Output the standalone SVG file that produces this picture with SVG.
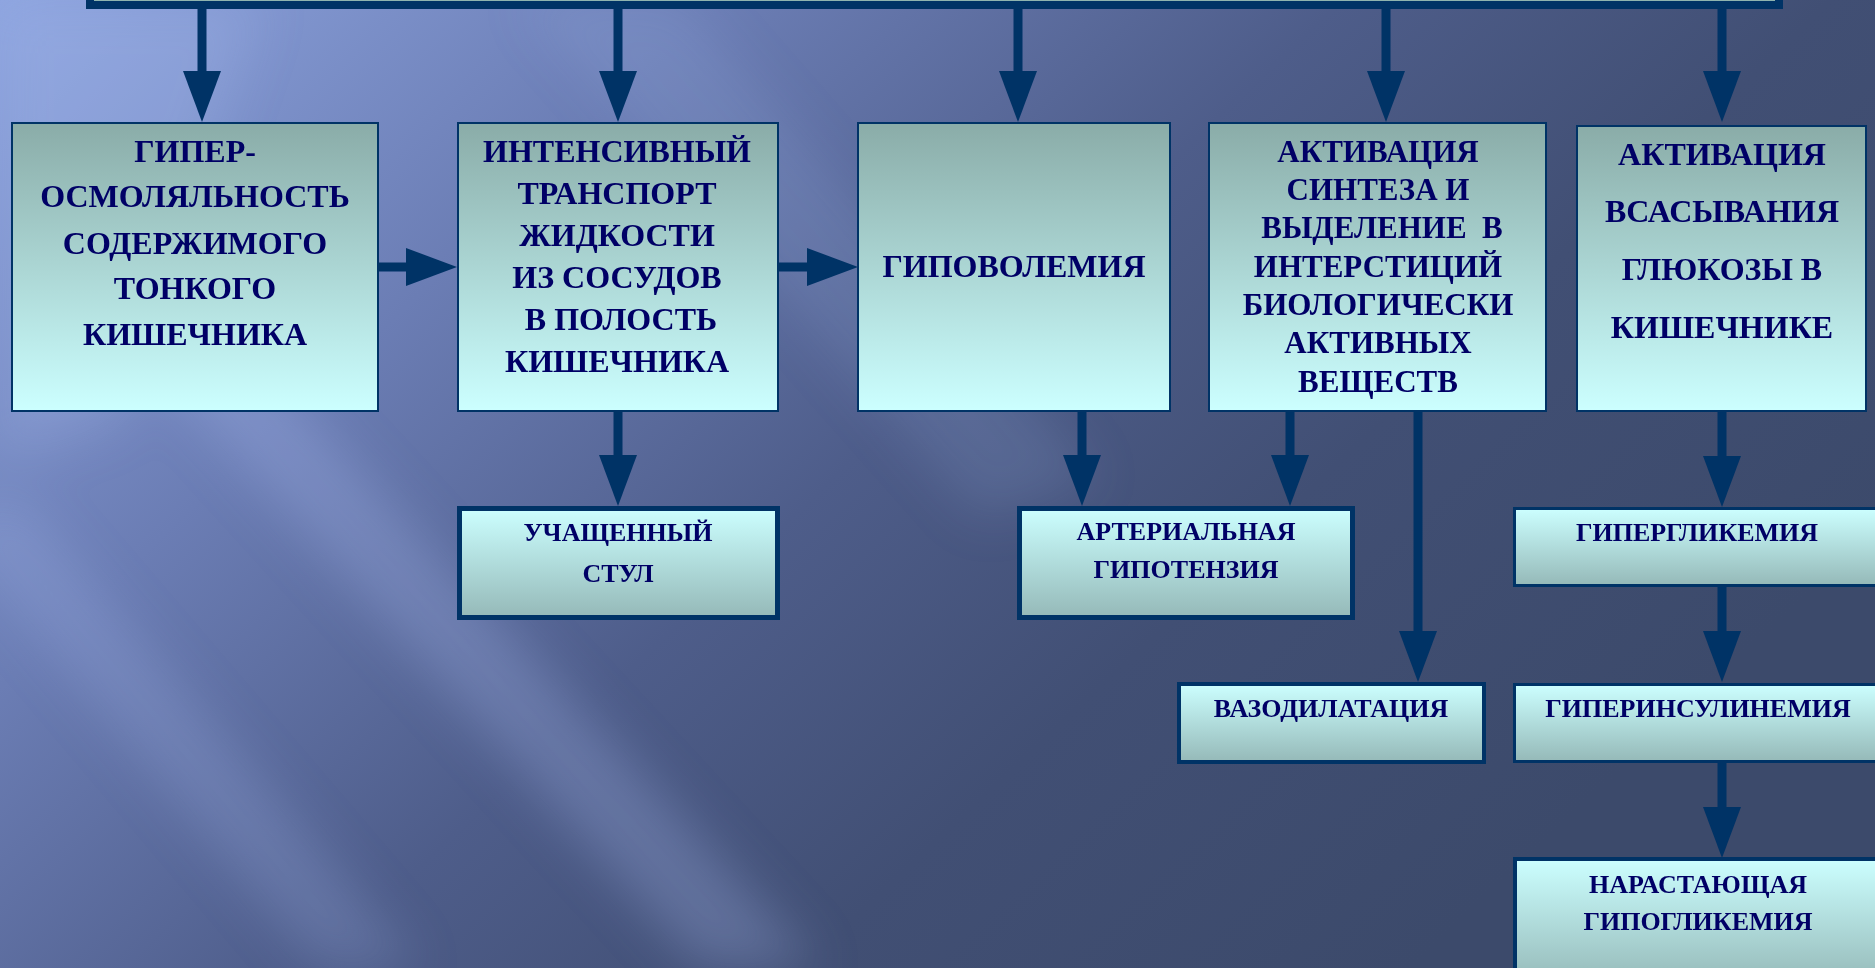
<svg xmlns="http://www.w3.org/2000/svg" width="1875" height="968" viewBox="0 0 1875 968">
  <defs>
    <linearGradient id="bg" x1="0" y1="0" x2="1" y2="0.55">
      <stop offset="0" stop-color="#8DA4DF"/>
      <stop offset="0.3" stop-color="#6B7DB4"/>
      <stop offset="0.55" stop-color="#4E5D8A"/>
      <stop offset="0.75" stop-color="#414F74"/>
      <stop offset="1" stop-color="#3C4A6B"/>
    </linearGradient>
    <linearGradient id="gUp" x1="0" y1="0" x2="0" y2="1">
      <stop offset="0" stop-color="#8AACA8"/>
      <stop offset="1" stop-color="#CCFFFF"/>
    </linearGradient>
    <linearGradient id="gDown" x1="0" y1="0" x2="0" y2="1">
      <stop offset="0" stop-color="#CCFFFF"/>
      <stop offset="1" stop-color="#95B9B8"/>
    </linearGradient>
    <filter id="blur" x="-20%" y="-20%" width="140%" height="140%">
      <feGaussianBlur stdDeviation="25"/>
    </filter>
    <marker id="ah" markerUnits="userSpaceOnUse" markerWidth="51" markerHeight="38" refX="0" refY="19" orient="auto" overflow="visible">
      <path d="M0,0 L51,19 L0,38 Z" fill="#003366"/>
    </marker>
    <style>
      .top { fill: url(#gUp); stroke: #003366; stroke-width: 2; }
      .low { fill: url(#gDown); stroke: #003366; }
      .t { font-family: "Liberation Serif", "Times New Roman", serif; font-weight: bold; fill: #000066; text-anchor: middle; }
      .t32 { font-size: 32px; }
      .t31 { font-size: 31px; }
      .t26 { font-size: 26px; }
      .c { fill: none; stroke: #003366; stroke-width: 9; marker-end: url(#ah); }
    </style>
  </defs>

  <!-- background -->
  <rect x="0" y="0" width="1875" height="968" fill="url(#bg)"/>
  <g filter="url(#blur)" fill="#A8BCF0">
    <polygon points="120,330 230,330 820,968 700,968" opacity="0.28"/>
    <polygon points="-60,520 20,500 420,968 320,968" opacity="0.22"/>
    <polygon points="520,0 680,0 1100,480 980,520" opacity="0.14"/>
    <polygon points="0,0 260,0 120,420 0,460" opacity="0.25"/>
  </g>

  <!-- connectors -->
  <g id="connectors">
    <line class="c" x1="202" y1="9" x2="202" y2="71"/>
    <line class="c" x1="618" y1="9" x2="618" y2="71"/>
    <line class="c" x1="1018" y1="9" x2="1018" y2="71"/>
    <line class="c" x1="1386" y1="9" x2="1386" y2="71"/>
    <line class="c" x1="1722" y1="9" x2="1722" y2="71"/>
    <line class="c" x1="378" y1="267" x2="406" y2="267"/>
    <line class="c" x1="778" y1="267" x2="807" y2="267"/>
    <line class="c" x1="618" y1="411" x2="618" y2="455"/>
    <line class="c" x1="1082" y1="411" x2="1082" y2="455"/>
    <line class="c" x1="1290" y1="411" x2="1290" y2="455"/>
    <line class="c" x1="1418" y1="411" x2="1418" y2="631"/>
    <line class="c" x1="1722" y1="411" x2="1722" y2="456"/>
    <line class="c" x1="1722" y1="587" x2="1722" y2="631"/>
    <line class="c" x1="1722" y1="763" x2="1722" y2="807"/>
  </g>

  <!-- top bar (parent node, mostly off-screen) -->
  <g id="node-top">
    <rect x="90" y="-100" width="1689" height="105" fill="#8FB4AF" stroke="#003366" stroke-width="8"/>
  </g>

  <g id="node-hyperosmolarity">
    <rect class="top" x="12" y="123" width="366" height="288"/>
    <text class="t t32"><tspan x="195" y="162">ГИПЕР-</tspan><tspan x="195" y="207">ОСМОЛЯЛЬНОСТЬ</tspan><tspan x="195" y="254">СОДЕРЖИМОГО</tspan><tspan x="195" y="299">ТОНКОГО</tspan><tspan x="195" y="345">КИШЕЧНИКА</tspan></text>
  </g>

  <g id="node-transport">
    <rect class="top" x="458" y="123" width="320" height="288"/>
    <text class="t t32"><tspan x="617" y="162">ИНТЕНСИВНЫЙ</tspan><tspan x="617" y="204">ТРАНСПОРТ</tspan><tspan x="617" y="246">ЖИДКОСТИ</tspan><tspan x="617" y="288">ИЗ СОСУДОВ</tspan><tspan x="621" y="330">В ПОЛОСТЬ</tspan><tspan x="617" y="372">КИШЕЧНИКА</tspan></text>
  </g>

  <g id="node-hypovolemia">
    <rect class="top" x="858" y="123" width="312" height="288"/>
    <text class="t t32" x="1014" y="277">ГИПОВОЛЕМИЯ</text>
  </g>

  <g id="node-activation-synthesis">
    <rect class="top" x="1209" y="123" width="337" height="288"/>
    <text class="t t31"><tspan x="1378" y="162">АКТИВАЦИЯ</tspan><tspan x="1378" y="200">СИНТЕЗА И</tspan><tspan x="1382" y="238">ВЫДЕЛЕНИЕ&#160; В</tspan><tspan x="1378" y="277">ИНТЕРСТИЦИЙ</tspan><tspan x="1378" y="315">БИОЛОГИЧЕСКИ</tspan><tspan x="1378" y="353">АКТИВНЫХ</tspan><tspan x="1378" y="392">ВЕЩЕСТВ</tspan></text>
  </g>

  <g id="node-glucose-absorption">
    <rect class="top" x="1577" y="126" width="289" height="285"/>
    <text class="t t32"><tspan x="1722" y="165">АКТИВАЦИЯ</tspan><tspan x="1722" y="222">ВСАСЫВАНИЯ</tspan><tspan x="1722" y="280">ГЛЮКОЗЫ В</tspan><tspan x="1722" y="338">КИШЕЧНИКЕ</tspan></text>
  </g>

  <g id="node-frequent-stool">
    <rect class="low" x="459.5" y="508.5" width="318" height="109" stroke-width="5"/>
    <text class="t t26"><tspan x="618" y="541">УЧАЩЕННЫЙ</tspan><tspan x="618" y="582">СТУЛ</tspan></text>
  </g>

  <g id="node-hypotension">
    <rect class="low" x="1019.5" y="508.5" width="333" height="109" stroke-width="5"/>
    <text class="t t26"><tspan x="1186" y="540">АРТЕРИАЛЬНАЯ</tspan><tspan x="1186" y="578">ГИПОТЕНЗИЯ</tspan></text>
  </g>

  <g id="node-vasodilation">
    <rect class="low" x="1179" y="684" width="305" height="78" stroke-width="4"/>
    <text class="t t26" x="1331" y="717">ВАЗОДИЛАТАЦИЯ</text>
  </g>

  <g id="node-hyperglycemia">
    <rect class="low" x="1514.5" y="508.5" width="400" height="77" stroke-width="3"/>
    <text class="t t26" x="1697" y="541">ГИПЕРГЛИКЕМИЯ</text>
  </g>

  <g id="node-hyperinsulinemia">
    <rect class="low" x="1514.5" y="684.5" width="400" height="77" stroke-width="3"/>
    <text class="t t26" x="1698" y="717">ГИПЕРИНСУЛИНЕМИЯ</text>
  </g>

  <g id="node-hypoglycemia">
    <rect class="low" x="1515" y="859" width="400" height="125" stroke-width="4"/>
    <text class="t t26"><tspan x="1698" y="893">НАРАСТАЮЩАЯ</tspan><tspan x="1698" y="930">ГИПОГЛИКЕМИЯ</tspan></text>
  </g>
</svg>
